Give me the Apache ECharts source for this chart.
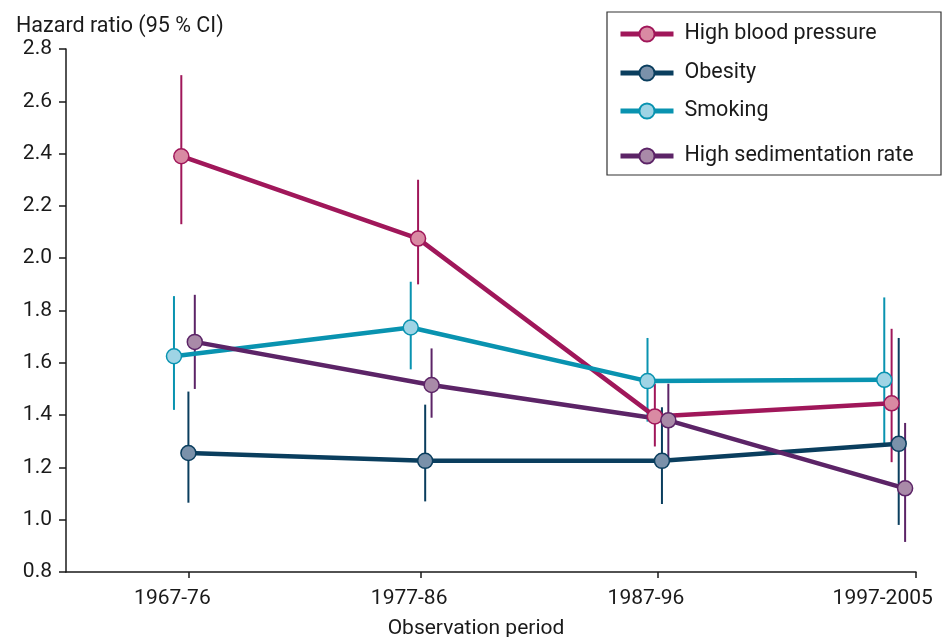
<!DOCTYPE html>
<html>
<head>
<meta charset="utf-8">
<script src="https://cdn.jsdelivr.net/npm/echarts@6/dist/echarts.min.js"></script>
<style>
html,body{margin:0;padding:0;background:#fff;}
#chart{width:946px;height:637px;}
</style>
</head>
<body>
<div id="chart"></div>
<script>
// ---- Data ----
const categories = ['1967-76', '1977-86', '1987-96', '1997-2005'];

const hbpHR   = [2.39, 2.075, 1.395, 1.445];
const hbpLo   = [2.13, 1.90, 1.28, 1.22];
const hbpHi   = [2.70, 2.30, 1.52, 1.73];

const obesityHR = [1.255, 1.225, 1.225, 1.29];
const obesityLo = [1.065, 1.07, 1.06, 0.98];
const obesityHi = [1.49, 1.44, 1.43, 1.695];

const smokingHR = [1.625, 1.735, 1.53, 1.535];
const smokingLo = [1.42, 1.575, 1.375, 1.29];
const smokingHi = [1.855, 1.91, 1.695, 1.85];

const sedHR = [1.68, 1.515, 1.38, 1.12];
const sedLo = [1.50, 1.39, 1.235, 0.915];
const sedHi = [1.86, 1.655, 1.52, 1.37];

const yTicks = [0.8, 1.0, 1.2, 1.4, 1.6, 1.8, 2.0, 2.2, 2.4, 2.6, 2.8];

// ---- Styles ----
const FONT = 'Roboto';
const TXT = '#1a1a1a';
const seriesDefs = [
  { name: 'High blood pressure', hr: hbpHR, lo: hbpLo, hi: hbpHi, line: '#a0175a', fill: '#d98aa3', dodge: -0.013, legendY: 31 },
  { name: 'Obesity', hr: obesityHR, lo: obesityLo, hi: obesityHi, line: '#0a3e5e', fill: '#7a91aa', dodge: 0.017, legendY: 70 },
  { name: 'Smoking', hr: smokingHR, lo: smokingLo, hi: smokingHi, line: '#0993b0', fill: '#9fd4e5', dodge: -0.044, legendY: 108 },
  { name: 'High sedimentation rate', hr: sedHR, lo: sedLo, hi: sedHi, line: '#5c2467', fill: '#a98aa8', dodge: 0.044, legendY: 153 }
];

const series = [];
seriesDefs.forEach(function (d) {
  series.push({
    type: 'custom',
    name: d.name + ' CI',
    z: 2,
    silent: true,
    data: categories.map(function (c, i) { return [i + 1 + d.dodge, d.lo[i], d.hi[i]]; }),
    encode: { x: 0, y: [1, 2] },
    renderItem: function (params, api) {
      const p1 = api.coord([api.value(0), api.value(1)]);
      const p2 = api.coord([api.value(0), api.value(2)]);
      return {
        type: 'line',
        shape: { x1: p1[0], y1: p1[1], x2: p2[0], y2: p2[1] },
        style: { stroke: d.line, lineWidth: 2 }
      };
    }
  });
});
seriesDefs.forEach(function (d) {
  series.push({
    type: 'line',
    name: d.name,
    z: 3,
    data: categories.map(function (c, i) { return [i + 1 + d.dodge, d.hr[i]]; }),
    symbol: 'circle',
    symbolSize: 15,
    lineStyle: { color: d.line, width: 4.5 },
    itemStyle: { color: d.fill, borderColor: d.line, borderWidth: 1.5 },
    emphasis: { disabled: true },
    animation: false
  });
});

const legends = seriesDefs.map(function (d) {
  return {
    data: [d.name],
    orient: 'vertical',
    left: 618,
    top: d.legendY - 9,
    padding: 0,
    itemWidth: 53,
    itemHeight: 19,
    selectedMode: false,
    lineStyle: { width: 5 },
    textStyle: { fontFamily: FONT, fontSize: 21.5, color: TXT, padding: [0, 0, 0, 6], lineHeight: 24 }
  };
});

const option = {
  backgroundColor: '#ffffff',
  animation: false,
  title: {
    text: 'Hazard ratio (95 % CI)',
    left: 11,
    top: 11,
    textStyle: { fontFamily: FONT, fontSize: 21.5, fontWeight: 'normal', color: TXT }
  },
  legend: legends,
  graphic: [{
    type: 'rect',
    shape: { x: 607, y: 12, width: 334, height: 163 },
    style: { fill: 'none', stroke: '#333', lineWidth: 1.2 },
    z: 10
  }],
  grid: { left: 66, right: 30, top: 49, bottom: 65, containLabel: false, outerBoundsMode: 'none' },
  xAxis: {
    type: 'value',
    min: 0.5,
    max: 4.09,
    splitLine: { show: false },
    axisLine: { show: true, lineStyle: { color: TXT, width: 1.5 } },
    axisTick: { show: true, length: 6, lineStyle: { color: TXT, width: 1.5 }, customValues: [1.02, 2, 3, 4.09] },
    axisLabel: {
      customValues: [1, 2, 3, 4],
      formatter: function (v) { return categories[Math.round(v) - 1]; },
      fontFamily: FONT, fontSize: 21, color: TXT, margin: 16,
      padding: [0, 24, 0, 0]
    },
    name: 'Observation period',
    nameLocation: 'middle',
    nameGap: 46,
    nameTextStyle: { fontFamily: FONT, fontSize: 21, color: TXT, padding: [0, 30, 0, 0] }
  },
  yAxis: {
    type: 'value',
    min: yTicks[0],
    max: yTicks[yTicks.length - 1],
    interval: 0.2,
    splitLine: { show: false },
    axisLine: { show: true, lineStyle: { color: TXT, width: 1.5 } },
    axisTick: { show: true, length: 7, lineStyle: { color: TXT, width: 1.5 } },
    axisLabel: {
      formatter: function (v) { return v.toFixed(1); },
      fontFamily: FONT, fontSize: 21, color: TXT, margin: 14
    }
  },
  series: series
};

const chart = echarts.init(document.getElementById('chart'), null, { renderer: 'canvas' });
chart.setOption(option);
</script>
</body>
</html>
